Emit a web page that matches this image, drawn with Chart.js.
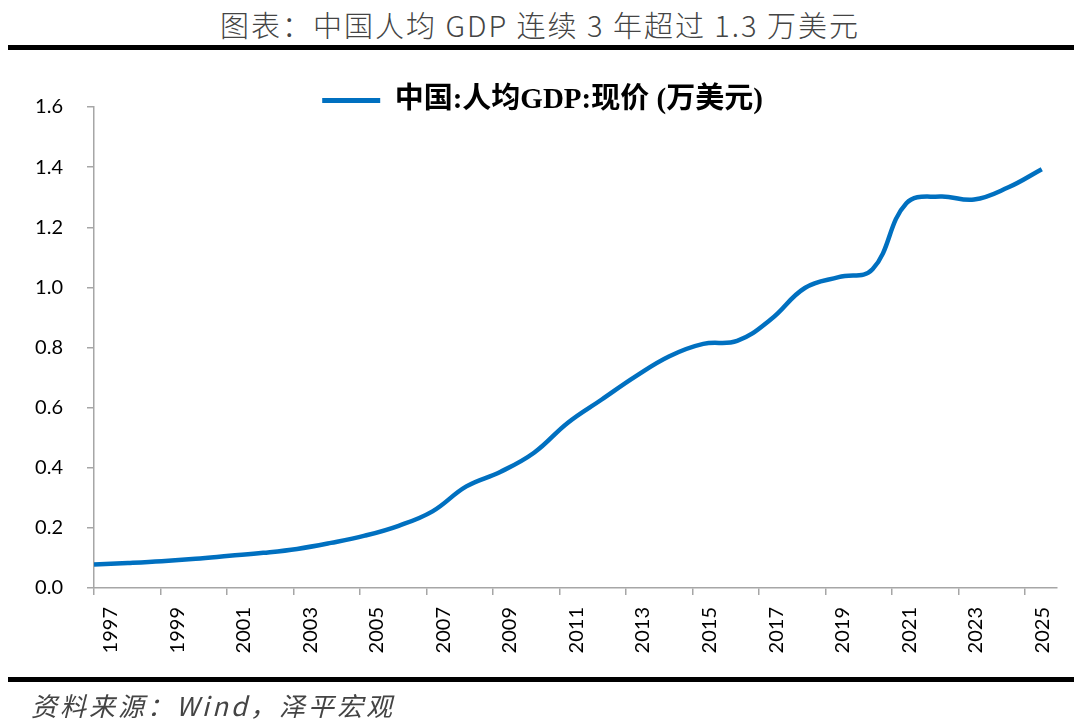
<!DOCTYPE html>
<html>
<head>
<meta charset="utf-8">
<script src="https://cdn.jsdelivr.net/npm/chart.js@4.4.1/dist/chart.umd.min.js"></script>
<style>
  body { margin: 0; width: 1080px; height: 728px; position: relative; background: #fff; overflow: hidden; }
  #title { position: absolute; left: 0; top: 3px; width: 1080px; text-align: center; letter-spacing: 2px;
           font: 300 29px "Noto Sans CJK SC", sans-serif; color: #444; }
  .rule { position: absolute; left: 8px; width: 1066px; height: 5px; background: #000; }
  #box { position: absolute; left: 0; top: 0; width: 1080px; height: 728px; }
  #source { position: absolute; left: 31px; top: 686px; letter-spacing: 3px;
            font: italic 26px "Noto Sans CJK SC", sans-serif; color: #444; }
</style>
</head>
<body>
<div id="title">图表：中国人均 GDP 连续 3 年超过 1.3 万美元</div>
<div class="rule" style="top:45px"></div>
<div id="box"><canvas id="chart"></canvas></div>
<div class="rule" style="top:677px"></div>
<div id="source">资料来源：Wind，泽平宏观</div>

<script>
// 数据（万美元），按年
const years = [1997, 1998, 1999, 2000, 2001, 2002, 2003, 2004, 2005, 2006,
               2007, 2008, 2009, 2010, 2011, 2012, 2013, 2014, 2015, 2016,
               2017, 2018, 2019, 2020, 2021, 2022, 2023, 2024, 2025];
const gdpPerCapita = [0.078, 0.083, 0.089, 0.097, 0.107, 0.117, 0.130, 0.150, 0.174, 0.207,
                      0.255, 0.338, 0.386, 0.450, 0.550, 0.627, 0.704, 0.771, 0.812, 0.822,
                      0.894, 0.998, 1.034, 1.060, 1.280, 1.302, 1.292, 1.332, 1.393];
const tickYears = [1997, 1999, 2001, 2003, 2005, 2007, 2009, 2011, 2013, 2015, 2017, 2019, 2021, 2023, 2025];
const yTicks = [0, 0.2, 0.4, 0.6, 0.8, 1.0, 1.2, 1.4, 1.6];
const seriesName = '中国:人均GDP:现价 (万美元)';

const lineColor = '#0070C0';
const axisColor = '#a6a6a6';

// 图例位置微调
const legendShift = {
    id: 'legendShift',
    afterLayout(chart) {
        const lg = chart.legend;
        lg.top += 18; lg.bottom += 18;
        lg.left += 14; lg.right += 14;
    }
};

const ctx = document.getElementById('chart').getContext('2d');
new Chart(ctx, {
    type: 'line',
    data: {
        datasets: [{
            label: seriesName,
            data: years.map((yr, i) => ({ x: yr, y: gdpPerCapita[i] })),
            borderColor: lineColor,
            backgroundColor: lineColor,
            borderWidth: 4.5,
            pointRadius: 0,
            tension: 0.4,
            xAxisID: 'x',
            yAxisID: 'y'
        }]
    },
    options: {
        responsive: true,
        maintainAspectRatio: false,
        animation: false,
        layout: { padding: { top: 58, right: 23, left: 0, bottom: 0 } },
        plugins: {
            legend: {
                position: 'top',
                labels: {
                    boxWidth: 58,
                    boxHeight: 5,
                    padding: 10,
                    color: '#000',
                    font: { family: '"Liberation Serif", "Noto Sans CJK SC", serif', size: 29, weight: 'bold' },
                    generateLabels: chart => Chart.defaults.plugins.legend.labels.generateLabels(chart)
                        .map(l => ({ ...l, lineWidth: 0 }))
                }
            },
            tooltip: { enabled: false }
        },
        scales: {
            x: {
                type: 'linear',
                display: false,
                min: 1997,
                max: 2025.45
            },
            x2: {
                type: 'linear',
                position: 'bottom',
                min: 1997,
                max: 2025.96,
                afterBuildTicks: scale => { scale.ticks = tickYears.map(v => ({ value: v })); },
                afterFit: scale => { scale.height = 140; },
                grid: { display: true, drawOnChartArea: false, drawTicks: true, tickLength: 7, color: axisColor, lineWidth: 1.5 },
                border: { display: true, color: axisColor, width: 1.5 },
                ticks: {
                    autoSkip: false,
                    maxRotation: 90,
                    minRotation: 90,
                    labelOffset: 17,
                    padding: 12,
                    color: '#000',
                    font: { family: 'Lato', size: 20 },
                    callback: v => String(v)
                }
            },
            y: {
                min: 0,
                max: 1.6,
                afterBuildTicks: scale => { scale.ticks = yTicks.map(v => ({ value: v })); },
                afterFit: scale => { scale.width = 94; },
                grid: { display: true, drawOnChartArea: false, drawTicks: true, tickLength: 7, color: axisColor, lineWidth: 1.5 },
                border: { display: true, color: axisColor, width: 1.5 },
                ticks: {
                    padding: 24,
                    color: '#000',
                    font: { family: 'Lato', size: 20 },
                    callback: v => v.toFixed(1)
                }
            }
        }
    },
    plugins: [legendShift]
});
</script>
</body>
</html>
